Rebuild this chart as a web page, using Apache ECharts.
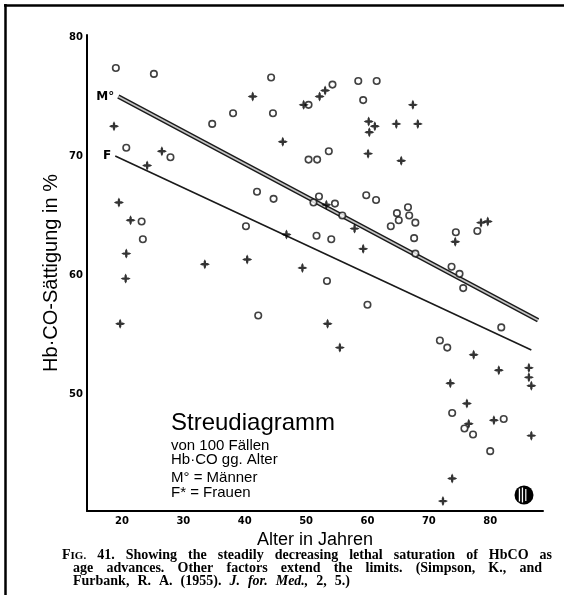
<!DOCTYPE html>
<html><head><meta charset="utf-8">
<script src="https://cdn.jsdelivr.net/npm/echarts@6/dist/echarts.min.js"></script>
<style>html,body{margin:0;padding:0;background:#fff}#c{width:564px;height:595px}</style>
</head><body><div id="c"></div>
<script>
// Men (M°, open circles)
const maleAge = [19.0,25.2,44.3,38.1,44.6,34.7,20.7,27.9,42.0,44.7,50.4,50.4,51.8,53.7,54.3,58.5,61.5,59.3,52.1,54.7,59.8,61.4,66.6,64.8,23.2,23.4,40.2,42.2,51.2,66.8,65.1,63.8,67.8,67.6,55.9,51.7,54.1,53.4,60.0,67.8,74.4,77.9,73.7,75.0,75.6,81.8,71.8,73.0,73.8,82.2,75.8,77.2,80.0];
const maleHbCO = [77.4,76.9,76.6,73.6,73.6,72.7,70.7,69.9,67.0,66.4,74.3,69.7,69.7,70.4,76.0,76.3,76.3,74.7,66.6,66.0,66.7,66.3,65.7,65.2,64.5,63.0,64.1,56.6,66.1,65.0,64.6,64.1,64.4,63.1,65.0,63.3,63.0,59.5,57.5,61.8,63.6,63.7,60.7,60.1,58.9,55.6,54.5,53.9,48.4,47.9,47.1,46.6,45.2];
// Women (F*, crosses)
const femaleAge = [41.3,18.7,46.2,26.5,24.1,19.5,49.6,52.2,53.1,67.4,60.2,61.2,60.3,64.7,68.2,60.1,65.5,21.4,20.7,20.6,19.7,46.8,33.5,40.4,49.4,53.3,57.9,59.3,53.5,55.5,74.3,78.5,79.6,77.3,81.4,86.3,86.3,86.7,73.5,76.2,80.6,76.5,86.7,73.8,72.3];
const femaleHbCO = [75.0,72.5,71.2,70.4,69.2,66.1,74.3,75.0,75.5,74.3,72.9,72.5,72.0,72.7,72.7,70.2,69.6,64.6,61.8,59.7,55.9,63.4,60.9,61.3,60.6,65.9,63.9,62.2,55.9,53.9,62.8,64.4,64.5,53.3,52.0,52.2,51.4,50.7,50.9,49.2,47.8,47.5,46.5,42.9,41.0];
// Regression lines
const maleLineAge = [19.4, 87.8];
const maleLineHbCO = [75.0, 56.2];
const femaleLineAge = [18.9, 86.7];
const femaleLineHbCO = [70.0, 53.7];
const lineLabels = ['M°', 'F'];
// Ticks
const xTicks = [20,30,40,50,60,70,80];
const yTicks = [50,60,70,80];

const chart = echarts.init(document.getElementById('c'), null, {renderer:'canvas'});
const pair = (xs, ys) => xs.map((x,i)=>[x, ys[i]]);
const labelledLine = (xs, ys, txt) => pair(xs, ys).map((p,i)=> i===0 ? {value:p, label:{show:true, formatter:txt}} : {value:p, label:{show:false}});

const crossPath = 'path://M5,0 L6.2,2.2 L6.2,3.8 L7.8,3.8 L10,5 L7.8,6.2 L6.2,6.2 L6.2,7.8 L5,10 L3.8,7.8 L3.8,6.2 L2.2,6.2 L0,5 L2.2,3.8 L3.8,3.8 L3.8,2.2 Z';
const serif = '"Liberation Serif","DejaVu Serif",serif';
const sans = '"Liberation Sans",Arial,sans-serif';

// justified caption words
const mctx = document.createElement('canvas').getContext('2d');
function measure(font, t){ mctx.font = font; return mctx.measureText(t).width; }
const capFont = 'bold 14px ' + serif;
const capItal = 'bold italic 14px ' + serif;
const capSmall = 'bold 11px ' + serif;
const graphics = [];
function justify(words, x0, x1, y){
  const fontOf = w => w.startsWith('_') ? capItal : capFont;
  const txtOf = w => w.startsWith('_') ? w.slice(1) : w;
  const widths = words.map(w => {
    if (w === 'FIG.') return measure(capFont,'F') + measure(capSmall,'IG.');
    return measure(fontOf(w), txtOf(w));
  });
  const total = widths.reduce((a,b)=>a+b,0);
  const gap = (x1 - x0 - total) / (words.length - 1);
  let x = x0;
  words.forEach((w,i)=>{
    if (w === 'FIG.') {
      graphics.push({type:'text', x:x, y:y, style:{text:'{a|F}{b|IG.}', rich:{a:{font:capFont, fill:'#000'}, b:{font:capSmall, fill:'#000', padding:[2,0,0,0]}}, verticalAlign:'middle', fill:'#000'}});
    } else {
      graphics.push({type:'text', x:x, y:y, style:{text:txtOf(w), font:fontOf(w), fill:'#000', verticalAlign:'middle'}});
    }
    x += widths[i] + gap;
  });
}
justify(['FIG.','41.','Showing','the','steadily','decreasing','lethal','saturation','of','HbCO','as'], 62, 552, 555);
justify(['age','advances.','Other','factors','extend','the','limits.','(Simpson,','K.,','and'], 73, 542, 568);
justify(['Furbank,','R.','A.','(1955).','_J.','_for.','_Med.,','2,','5.)'], 73, 350, 581);

// frame
graphics.push({type:'line', shape:{x1:4, y1:5.5, x2:564, y2:5.5}, style:{stroke:'#000', lineWidth:2.5}});
graphics.push({type:'line', shape:{x1:5.5, y1:4, x2:5.5, y2:595}, style:{stroke:'#000', lineWidth:2.5}});

// legend text block
graphics.push({type:'text', x:171, y:423, style:{text:'Streudiagramm', font:'24px '+sans, fill:'#000', verticalAlign:'middle'}});
graphics.push({type:'text', x:171, y:446, style:{text:'von 100 Fällen', font:'15px '+sans, fill:'#000', verticalAlign:'middle'}});
graphics.push({type:'text', x:171, y:460, style:{text:'Hb·CO gg. Alter', font:'15px '+sans, fill:'#000', verticalAlign:'middle'}});
graphics.push({type:'text', x:171, y:478, style:{text:'M° = Männer', font:'15px '+sans, fill:'#000', verticalAlign:'middle'}});
graphics.push({type:'text', x:171, y:493, style:{text:'F* = Frauen', font:'15px '+sans, fill:'#000', verticalAlign:'middle'}});

// y axis title
graphics.push({type:'text', x:51, y:273, rotation:Math.PI/2, style:{text:'Hb·CO-Sättigung in %', font:'20px '+sans, fill:'#000', align:'center', verticalAlign:'middle'}});

// publisher logo
graphics.push({type:'group', x:524, y:495, children:[
  {type:'circle', shape:{cx:0, cy:0, r:9.5}, style:{fill:'#000'}},
  {type:'rect', shape:{x:-5.2, y:-6.5, width:1.3, height:13}, style:{fill:'#fff'}},
  {type:'rect', shape:{x:-2.2, y:-7.5, width:1.3, height:15}, style:{fill:'#fff'}},
  {type:'rect', shape:{x:1.2, y:-6, width:1.2, height:12}, style:{fill:'#fff'}}
]});

chart.setOption({
  animation:false,
  backgroundColor:'#fff',
  grid:{left:87, right:21, top:35, bottom:84, containLabel:false},
  xAxis:{
    type:'value', min:14.3, max:88.6,
    name:'Alter in Jahren', nameLocation:'middle', nameGap:15,
    nameTextStyle:{fontFamily:sans, fontSize:18, color:'#000', verticalAlign:'top'},
    axisLine:{show:true, onZero:false, lineStyle:{color:'#000', width:2}},
    axisTick:{show:false},
    splitLine:{show:false},
    axisLabel:{customValues:xTicks, margin:5, color:'#000', fontFamily:'"DejaVu Sans",sans-serif', fontWeight:'bold', fontSize:10}
  },
  yAxis:{
    type:'value', min:40.17, max:80.17,
    axisLine:{show:true, onZero:false, lineStyle:{color:'#000', width:2}},
    axisTick:{show:false},
    splitLine:{show:false},
    axisLabel:{customValues:yTicks, margin:4, color:'#000', fontFamily:'"DejaVu Sans",sans-serif', fontWeight:'bold', fontSize:10}
  },
  graphic:graphics,
  series:[
    {type:'line', data:labelledLine(maleLineAge, maleLineHbCO, lineLabels[0]), symbol:'circle', symbolSize:0.01, itemStyle:{color:'rgba(0,0,0,0)'},
     lineStyle:{color:'#1a1a1a', width:4.5}, silent:true, z:2,
     label:{position:'left', distance:4, color:'#000', fontFamily:'"DejaVu Sans",sans-serif', fontWeight:'bold', fontSize:12}},
    {type:'line', data:pair(maleLineAge, maleLineHbCO), symbol:'none', lineStyle:{color:'#c4c4c4', width:1.6}, silent:true, z:3},
    {type:'line', data:labelledLine(femaleLineAge, femaleLineHbCO, lineLabels[1]), symbol:'circle', symbolSize:0.01, itemStyle:{color:'rgba(0,0,0,0)'},
     lineStyle:{color:'#1a1a1a', width:1.6}, silent:true, z:2,
     label:{position:'left', distance:4, color:'#000', fontFamily:'"DejaVu Sans",sans-serif', fontWeight:'bold', fontSize:12}},
    {type:'scatter', name:'Männer', data:pair(maleAge, maleHbCO), symbol:'circle', symbolSize:6.5,
     itemStyle:{color:'#fff', borderColor:'#111', borderWidth:1.6}, z:4},
    {type:'scatter', name:'Frauen', data:pair(femaleAge, femaleHbCO), symbol:crossPath, symbolSize:10,
     itemStyle:{color:'#000'}, z:5}
  ]
});
</script>
</body></html>
